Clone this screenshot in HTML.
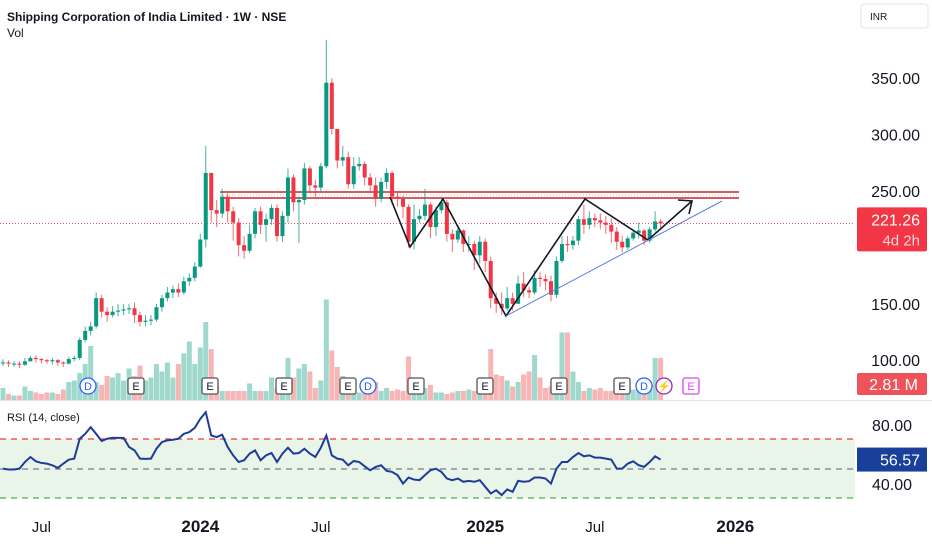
<!DOCTYPE html>
<html><head><meta charset="utf-8"><style>
body{margin:0;background:#fff;width:932px;height:550px;overflow:hidden;font-family:"Liberation Sans",sans-serif}
svg{position:absolute;left:0;top:0}
</style></head><body>
<svg id="c" width="932" height="550" xmlns="http://www.w3.org/2000/svg">
<text x="7" y="21" font-size="12" font-weight="bold" fill="#131722">Shipping Corporation of India Limited · 1W · NSE</text>
<text x="7" y="37" font-size="12" fill="#131722">Vol</text>
<rect x="861" y="4" width="67" height="24" rx="3" fill="#fff" stroke="#e0e3eb"/>
<text x="870" y="20" font-size="10" fill="#131722">INR</text>
<rect x="0" y="439" width="855" height="59" fill="#e9f5e9"/>
<line x1="0" y1="400.5" x2="932" y2="400.5" stroke="#e0e3eb"/>
<line x1="0" y1="439" x2="855" y2="439" stroke="#f23645" stroke-dasharray="6,5" stroke-width="1.3"/>
<line x1="0" y1="469" x2="855" y2="469" stroke="#787b86" stroke-dasharray="6,5" stroke-width="1.3"/>
<line x1="0" y1="498" x2="855" y2="498" stroke="#4caf50" stroke-dasharray="6,5" stroke-width="1.3"/>
<text x="7" y="421" font-size="11" fill="#131722">RSI (14, close)</text>
<g id="g"></g>
</svg>
<script>
const closes=[98,97,97,96,99,102,101,100,99,100,98,97,101,102,118,126,130,155,143,140,143,144,145,146,140,134,135,136,147,155,160,163,160,170,173,183,207,266,233,230,245,232,222,202,197,212,232,220,225,235,210,228,262,240,242,270,255,253,272,346,305,277,280,256,272,274,262,255,243,258,266,245,243,236,205,225,228,238,218,233,240,212,207,215,203,203,193,205,188,155,150,146,155,150,168,162,160,173,172,170,158,188,203,202,206,225,220,226,224,222,220,214,205,200,208,213,215,206,216,223,221.26];
const highs=[101,100,99,99,102,104,104,102,101,102,101,99,103,104,120,130,134,160,158,147,148,150,150,150,151,143,140,140,150,158,165,166,168,174,177,187,212,290,266,242,252,248,236,226,210,220,235,236,230,238,238,232,270,265,245,275,272,260,275,384,350,300,290,285,280,280,276,266,262,262,270,268,250,246,238,238,234,252,240,236,245,242,216,218,216,210,206,210,208,192,160,160,165,160,175,178,165,180,178,176,175,192,210,210,210,228,238,232,230,230,228,226,218,210,210,216,222,216,218,232,225];
const lows=[95,94,94,93,95,99,98,97,97,96,95,94,96,99,100,116,122,128,138,134,138,139,140,141,133,130,130,131,134,143,152,155,156,158,166,170,182,200,222,218,226,222,206,192,190,195,208,212,205,220,205,205,222,232,204,238,248,245,250,270,300,270,272,252,252,268,255,248,236,240,252,238,236,226,200,198,222,224,208,210,230,205,196,204,196,196,180,186,178,146,142,140,144,144,150,156,155,158,165,162,152,155,186,196,198,202,212,216,218,216,212,204,198,196,198,206,208,202,204,214,216];
const volumes=[0.8,0.4,0.3,0.3,0.9,0.6,0.5,0.4,0.5,0.5,0.4,0.7,1.2,1.3,1.8,2.4,3.6,1.2,1.0,1.6,1.5,1.8,1.3,2.1,1.6,2.3,1.3,1.5,2.4,1.9,2.5,1.5,2.4,3.1,3.9,2.4,3.5,5.2,3.4,0.9,0.6,0.6,0.6,0.6,0.6,1.1,0.6,0.6,0.6,1.5,0.8,0.8,2.8,1.5,2.1,2.4,1.9,0.8,1.3,6.7,3.3,2.2,1.6,1.5,1.0,0.5,0.7,0.8,1.2,0.6,0.8,0.6,0.7,0.6,2.9,0.6,0.7,0.8,1.0,0.5,0.5,0.4,0.5,0.6,0.6,0.7,0.6,0.6,1.0,3.4,1.7,1.6,1.3,0.9,1.2,1.7,1.9,3.0,1.5,0.8,0.9,1.3,4.5,4.5,1.9,1.2,0.6,0.8,0.7,0.8,0.6,0.6,0.7,0.6,0.6,0.7,0.9,0.8,0.9,2.8,2.81];
const rsi=[50.4,49.8,49.8,50.4,54.9,58.3,55.4,54.3,53.8,52.7,50.9,53.8,56.5,57.2,70.7,74,78.5,74,69.1,70.7,71.3,71.3,71.3,65.1,62.8,57.2,57,57.2,63.9,68.4,69.6,70,70.7,74,75.2,78.1,84.2,88.7,72.9,71.8,73.4,65.1,59.4,54.9,56.1,60.6,62.8,56.1,59.4,61,54.9,60.6,64.6,60.6,61,63.9,60.6,58.3,64.6,72.9,59.4,57.2,56.5,52.7,55.6,54.9,52,49.3,51.6,52.7,48.9,48.2,46,40.3,44.4,43,42.6,46,49.3,50.4,48.2,43.7,42.6,43.7,41.5,42.1,41.5,42.6,38.1,33.6,35.8,32.5,36.3,34.7,42.1,41.5,41.9,44.4,44.4,43.7,40.3,50.4,54.9,54.9,58.3,61,58.8,59.4,57.9,57.9,57.2,56.5,50.4,50.4,53.8,55.4,52.7,51.6,54.9,58.8,56.57];
const priceTicks=[350,300,250,150,100];
const rsiTicks=[80,40];
const timeLabels=["Jul","2024","Jul","2025","Jul","2026"];
const timeBars=[7,36,58,88,108,134];

const NS="http://www.w3.org/2000/svg";
const g=document.getElementById('g');
const X=i=>3+i*5.48;
const Y=p=>191-(p-250)*1.128;
const RY=v=>425+(80-v)*1.475;
const VY=v=>400-v*15;
function mk(t,a){const e=document.createElementNS(NS,t);for(const k in a)e.setAttribute(k,a[k]);g.appendChild(e);return e;}
volumes.forEach((v,i)=>{const up=closes[i]>=(i?closes[i-1]:closes[i]);
const r=mk('rect',{x:X(i)-2.5,y:VY(v),width:5,height:v*15,fill:up?'#9fd8cc':'#f7b5b5'});

});
const pl=mk('line',{x1:0,y1:Y(closes[closes.length-1]),x2:855,y2:Y(closes[closes.length-1]),stroke:'#f23645','stroke-dasharray':'1,2','stroke-width':0.8});


[[192,1.6],[198,1.6]].forEach(([y,w])=>{const l=mk('line',{x1:220,y1:y,x2:739,y2:y,stroke:'#c62828','stroke-width':w});

});
const rl=mk('line',{x1:220,y1:195,x2:739,y2:195,stroke:'#e88','stroke-dasharray':'1,2','stroke-width':0.8});


closes.forEach((c,i)=>{const o=i?closes[i-1]:c;const up=c>=o;const col=up?'#089981':'#f23645';
const w=mk('line',{x1:X(i),y1:Y(highs[i]),x2:X(i),y2:Y(lows[i]),stroke:col,'stroke-width':1,opacity:0.75});


const top=Math.min(Y(o),Y(c)),h=Math.max(1,Math.abs(Y(o)-Y(c)));
const b=mk('rect',{x:X(i)-2,y:top,width:4,height:h,fill:col});

});
const pat=mk('polyline',{points:'390,197 410,247 443,199 506,316 585,199 648,240 692,201',fill:'none',stroke:'#131722','stroke-width':1.6});


const ah=mk('polyline',{points:'678,200 692,201 689,214',fill:'none',stroke:'#131722','stroke-width':1.6});


const tl=mk('line',{x1:506,y1:316,x2:722,y2:201,stroke:'#5b7ee5','stroke-width':1});


[['D',88],['E',136],['E',210],['E',284],['E',348],['D',368],['E',416],['E',485],['E',559],['E',622],['D',644],['L',664],['P',690]].forEach(([t,x])=>{
let e;
if(t==='E'){e=mk('rect',{x:x-8,y:378,width:16,height:16,rx:2,fill:'#fff',stroke:'#555','stroke-width':1.3});}
else if(t==='P'){e=mk('rect',{x:x-7,y:378,width:16,height:16,rx:2,fill:'#fff',stroke:'#e040fb','stroke-width':1.3});}
else{e=mk('circle',{cx:x,cy:386,r:8,fill:'#fff',stroke:t==='D'?'#2962ff':'#9c27b0','stroke-width':1.3});}


const tx=mk('text',{x:t==='P'?x+1:x,y:390,'font-size':11,'text-anchor':'middle',fill:t==='E'?'#131722':t==='D'?'#2962ff':'#e040fb'});
tx.textContent=t==='L'?'⚡':t==='P'?'E':t;

});
const rp=mk('polyline',{points:rsi.map((v,i)=>X(i)+','+RY(v)).join(' '),fill:'none',stroke:'#1e3c96','stroke-width':2});


priceTicks.forEach(p=>{const t=mk('text',{x:920,y:Y(p)+6,'font-size':16,'text-anchor':'end',fill:'#131722'});t.textContent=p.toFixed(2);

});
rsiTicks.forEach(v=>{const t=mk('text',{x:912,y:RY(v)+6,'font-size':16,'text-anchor':'end',fill:'#131722'});t.textContent=v.toFixed(2);

});
timeLabels.forEach((l,k)=>{const bold=/^\d/.test(l);const t=mk('text',{x:X(timeBars[k])+(k===5?-2:0),y:532,'font-size':bold?17:15,'font-weight':bold?'bold':'normal','text-anchor':'middle',fill:'#131722'});t.textContent=l;

});
const last=closes[closes.length-1];
const lastUp=last>=closes[closes.length-2];
const lb=mk('rect',{x:857,y:Y(last)-16,width:70,height:44,rx:2,fill:lastUp?'#089981':'#f23645'});


const t1=mk('text',{x:920,y:Y(last)+2,'font-size':16,'text-anchor':'end',fill:'#fff'});t1.textContent=last.toFixed(2);


const t2=mk('text',{x:920,y:Y(last)+22,'font-size':15,'text-anchor':'end',fill:'#ffd6d9'});t2.textContent='4d 2h';


const vb=mk('rect',{x:857,y:373,width:70,height:22,rx:2,fill:lastUp?'#22ab94':'#f0525a'});


const vt=mk('text',{x:918,y:390,'font-size':16,'text-anchor':'end',fill:'#fff'});vt.textContent=volumes[volumes.length-1].toFixed(2)+' M';


const lv=rsi[rsi.length-1];
const rb=mk('rect',{x:857,y:RY(lv)-12,width:70,height:24,fill:'#1a3f9a'});


const rt=mk('text',{x:920,y:RY(lv)+6,'font-size':16,'text-anchor':'end',fill:'#fff'});rt.textContent=lv.toFixed(2);


</script>
</body></html>
